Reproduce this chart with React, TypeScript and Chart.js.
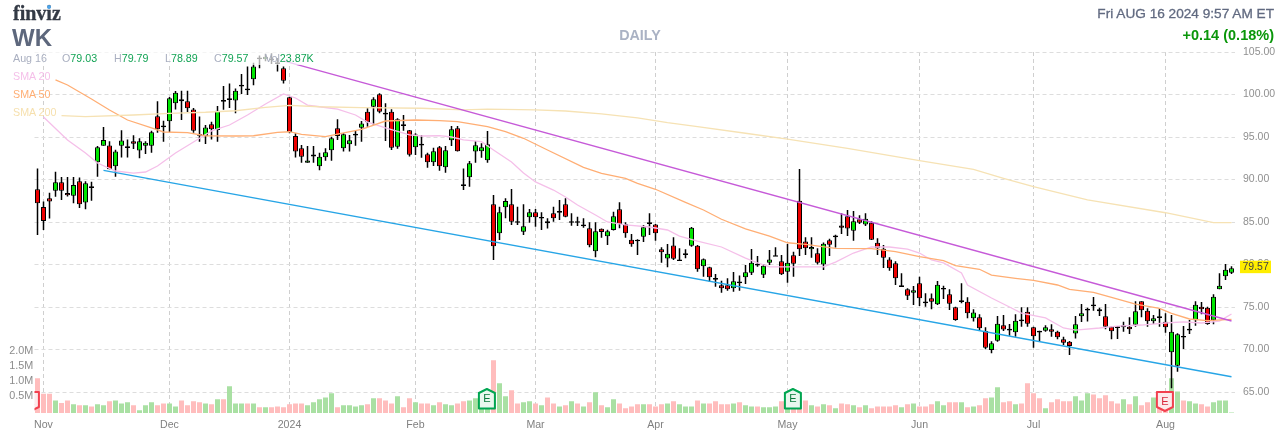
import React, { useEffect, useRef } from "react";
import { Chart, registerables } from "chart.js";

Chart.register(...registerables);

const opens = [88.84,86.77,87.78,88.69,89.67,88.4,88.1,89.78,87.3,89.2,92.02,93.98,94.0,91.55,93.98,93.7,94.5,93.4,93.98,93.98,97.43,96.35,96.85,98.96,99.43,99.2,98.25,95.35,95.08,96.5,95.82,99.35,99.35,99.3,100.95,100.7,101.8,104.35,104.14,104.25,103.8,103.08,99.67,95.12,93.67,91.98,92.7,91.55,92.61,93.43,96.02,93.67,94.14,95.18,96.1,97.98,98.57,100.02,97.85,97.98,93.86,96.5,95.79,93.79,94.2,92.96,92.02,93.79,91.43,94.61,96.02,89.45,90.26,93.28,93.31,92.26,87.08,83.67,86.73,87.08,85.1,83.86,85.55,86.14,85.4,85.08,86.02,86.1,87.08,84.9,85.1,84.5,84.26,81.55,84.2,83.31,84.06,86.49,84.73,82.92,82.92,83.27,84.97,84.72,81.78,80.72,82.25,80.4,81.13,82.21,82.21,79.78,79.67,78.4,77.55,77.55,77.2,78.0,78.49,79.04,80.08,78.8,80.2,80.9,80.37,79.16,81.08,87.51,82.72,81.78,81.31,80.0,82.84,83.2,84.6,85.67,83.98,85.31,84.72,84.92,82.57,81.86,80.6,80.14,77.35,77.08,76.69,77.78,75.65,76.02,75.31,77.05,76.49,74.96,75.6,75.63,73.67,73.79,72.18,69.94,71.04,72.84,72.44,72.02,73.53,74.45,72.61,72.2,72.22,72.37,72.1,71.2,70.92,71.87,73.9,74.58,75.28,74.73,73.9,72.69,72.73,72.61,72.69,72.92,75.67,74.57,73.31,73.9,73.27,69.67,68.1,71.6,72.24,73.43,75.04,74.92,73.43,77.08,78.61,79.03];
const highs = [91.3,87.4,88.45,90.92,90.3,90.3,90.3,90.25,89.8,89.75,93.94,96.18,94.5,93.5,95.8,94.7,95.2,94.85,94.5,95.75,99.2,96.9,99.7,100.4,100.45,100.45,98.4,97.4,96.4,96.8,98.65,101,101.3,100.7,102.4,103.3,103.75,104.6,104.8,104.85,104.3,103.3,99.75,95.45,94.05,93.94,93.94,93.15,93.67,95.04,97.08,95.43,95.23,95.75,96.88,98.37,99.67,100.14,98.96,98.26,97.2,97.6,95.82,95.43,95.23,93.16,93.75,93.94,93.94,96.3,96.3,91.3,92.18,94.53,94.26,95.71,88.18,86.8,87.78,88.88,86.8,87.08,86.53,86.53,86.14,85.43,86.8,87.59,87.78,86.02,85.63,85.43,84.96,84.96,84.25,84.1,86.2,87.31,84.96,83.59,82.96,84.65,86.02,84.76,82.02,82.41,83.2,81.9,81.8,84.41,82.3,80.72,79.75,78.88,78.1,78.37,79.12,78.72,79.94,81.82,81.0,80.06,81.7,82.02,81.12,82.41,81.5,91.24,83.2,83.2,81.9,82.6,83.04,83.5,86.02,86.41,86.29,85.8,86.02,85.08,83.08,82.3,80.84,80.37,78.96,77.2,77.47,78.57,76.61,76.6,78.06,77.51,77.08,75.04,77.8,76.14,74.73,74.14,72.61,70.96,73.94,74.06,73.0,74.14,74.96,74.96,72.69,72.22,72.84,72.96,72.22,71.51,71.0,73.94,75.35,74.92,76.18,74.92,75.35,72.76,72.76,73.27,73.79,75.67,75.67,74.84,74.06,74.84,74.26,74.06,71.9,72.77,73.47,75.67,75.59,75.04,76.49,78.96,80.06,79.79];
const lows = [83.47,84.06,85.4,87.98,87.6,88.0,87.2,86.65,86.5,87.5,90.33,93.98,91.2,90.33,92.6,92.6,93.6,92.5,93.0,93.15,95.5,94.45,95.6,98.25,97,97.95,95.5,94.45,94.18,94.7,94.45,98.2,98.4,97.8,100.05,99.95,101.1,103.1,103.9,103.6,102.7,101.3,95.45,92.6,91.98,91.98,91.98,91.1,92.2,92.2,94.65,93.28,93.28,93.98,94.45,96.2,96.41,97.78,94.53,93.47,93.63,95.75,92.7,92.88,92.57,91.39,91.59,91.04,90.8,93.94,93.28,88.77,89.16,91.98,92.57,91.98,80.53,82.88,85.43,84.65,84.65,83.47,84.92,84.45,84.06,84.25,85.04,85.24,85.55,84.57,84.53,84.33,82.02,80.84,83.16,82.3,84.0,84.26,83.16,82.1,81.12,82.65,83.47,82.8,80.2,79.67,80.53,80.45,80.73,82.1,79.16,78.57,77.98,77.39,76.69,76.92,76.8,76.92,77.7,78.76,79.74,78.41,79.94,81.0,78.76,77.86,78.57,81.0,81.12,80.8,80.0,79.35,81.0,82.0,83.59,83.35,82.8,84.76,84.53,82.88,81.12,79.59,79.27,77.59,77.39,75.82,75.23,75.12,75.04,74.73,75.23,75.94,74.65,73.39,75.43,73.67,73.28,72.3,70.02,69.55,70.92,72.18,71.63,71.51,72.69,72.69,70.22,71.0,72.1,71.51,71.2,70.53,69.35,71.28,73.24,73.28,74.57,73.94,72.37,71.2,71.24,72.1,71.82,72.69,73.79,72.69,73.0,72.69,71.98,65.43,67.39,70.06,71.82,72.8,74.14,72.92,72.96,77.08,78.18,78.89];
const closes = [87.2,85.12,87.4,89.67,88.69,88.15,89.35,87.08,89.55,89.0,93.78,94.65,91.2,93.3,94.6,93.9,94.2,94.5,94.33,95.55,95.9,96.15,99.55,100.2,99.2,98.37,95.75,95.15,96.13,95.9,98.1,99.15,99.55,100.45,101.15,100.5,103.3,104.15,104.45,104.05,103.6,101.63,95.6,93.28,92.68,92.25,92.95,92.68,93.2,94.84,95.12,95.31,94.61,95.38,96.6,96.73,99.43,97.98,97.65,93.75,97.08,96.3,92.92,95.28,94.0,92.02,93.31,91.55,93.43,95.9,93.31,89.25,91.9,94.02,93.78,94.14,82.14,86.14,87.47,85.04,84.9,84.49,86.14,85.55,85.6,84.84,85.43,86.3,85.63,85.1,84.9,84.7,82.26,83.9,83.82,83.9,85.67,84.73,83.67,82.37,82.73,84.37,84.77,83.67,81.43,81.27,80.69,80.6,81.33,84.33,79.43,80.61,78.49,78.2,77.2,77.08,78.02,77.8,79.08,80.2,79.88,79.86,80.6,81.1,78.84,80.2,80.1,81.78,81.9,82.06,80.2,82.45,82.33,83.4,84.33,84.25,85.08,84.92,85.39,82.92,81.9,80.8,79.55,78.37,77.55,76.33,76.96,76.02,75.45,75.63,77.63,77.25,75.39,73.47,75.8,74.26,74.34,72.49,70.22,70.73,73.04,72.34,72.24,73.39,73.33,73.04,71.55,72.0,72.61,72.1,71.43,70.8,70.41,72.96,74.26,74.78,75.08,74.5,72.69,72.14,72.53,72.84,72.37,74.49,74.61,73.31,73.67,73.7,72.61,72.1,71.78,71.4,72.44,75.27,74.73,73.0,76.22,77.51,79.39,79.57];
const volumesM = [1.16,.64,.64,.42,.33,.42,.29,.26,.26,.22,.29,.26,.39,.42,.32,.36,.26,.09,.26,.36,.26,.32,.32,.22,.42,.26,.39,.36,.32,.29,.46,.46,.89,.32,.32,.32,.32,.19,.19,.19,.22,.19,.29,.32,.32,.26,.36,.46,.52,.66,.19,.26,.26,.22,.26,.29,.49,.49,.42,.32,.56,.19,.49,.36,.32,.32,.26,.36,.29,.26,.32,.39,.42,.49,.3,.3,1.76,.99,.56,.76,.32,.36,.39,.32,.26,.52,.32,.22,.26,.39,.32,.22,.36,.69,.26,.19,.46,.32,.16,.22,.29,.29,.29,.22,.29,.32,.39,.29,.22,.22,.42,.32,.32,.39,.29,.29,.32,.36,.26,.22,.22,.19,.19,.22,.39,.3,.3,.55,.42,.26,.22,.29,.26,.16,.32,.29,.26,.19,.26,.16,.22,.22,.22,.26,.19,.29,.32,.22,.22,.29,.39,.26,.36,.36,.36,.19,.22,.26,.49,.52,.86,.36,.39,.29,.32,.99,.66,.49,.16,.36,.46,.39,.39,.56,.42,.66,.62,.49,.59,.39,.32,.46,.29,.56,.26,.36,.52,.59,.3,1.16,.72,.42,.39,.32,.29,.22,.36,.42,.42,.02];

const sma20Index = [1,5,8,10,13,16,18,20,23,26,29,32,35,38,41,43,45,47,50,53,55,58,62,64,67,69,71,74,76,79,81,83,86,88,90,93,95,98,102,105,107,110,114,118,120,122,126,131,133,136,139,142,145,147,149,151,154,155,159,162,164,168,171,173,177,180,184,188,191,194,197,199];
const sma20Values = [97.35,94.65,93.12,91.94,91.0,90.76,90.88,91.59,93.12,94.41,95.71,96.41,97.59,98.88,100.06,99.59,98.76,98.56,98.29,97.59,96.76,96.06,95.24,95.12,95.15,95,94.65,94.45,93.47,92.06,90.76,89.71,88.76,87.94,87,85.82,85,84.65,84.41,84.06,83.35,82.76,82.06,80.76,80.18,79.71,79.71,79.71,80.29,81.35,82.06,82.06,81.82,81.35,80.53,80.18,79,77.59,76.06,75,74.29,73.71,72.53,72.29,72.53,72.76,72.88,73.12,73.24,73.12,73.35,74.18];
const sma50Index = [3,5,9,12,15,19,21,25,28,33,36,40,42,44,48,50,54,58,63,67,70,75,78,81,85,91,94,98,100,103,108,111,114,118,122,125,128,133,139,143,147,151,153,157,159,163,166,170,172,176,179,183,187,189,192,195,199];
const sma50Values = [101.71,101.12,99.47,98.18,97,96.06,95.59,95.51,95.15,95.12,95.15,95.55,95.62,95.32,95.04,95.35,95.91,96.88,97,96.92,96.8,96.21,95.62,94.85,93.47,91.43,90.73,90.14,89.55,88.85,87.32,86.41,85.32,84.18,83.35,82.56,82.38,81.9,81.86,81.51,80.92,80.45,79.88,79.44,78.76,78.38,78.14,77.59,77.08,76.73,76.14,75.35,74.85,74.26,73.59,73.39,73.55];
const sma200Index = [4,8,16,22,28,33,38,42,47,54,64,71,75,83,88,94,100,105,110,118,125,135,147,156,161,166,175,188,196,199];
const sma200Values = [97.51,97.39,97.59,97.79,97.91,98.09,98.49,98.73,98.56,98.45,98.38,98.18,98.29,98.18,98.06,97.71,97.24,96.68,96.21,95.44,94.76,93.67,92.21,91.2,90.14,89.15,87.59,86.09,84.92,84.92];
const upperTrendIndex = [41,199];
const upperTrendValues = [103.96,73.35];
const lowerTrendIndex = [11,199];
const lowerTrendValues = [91.08,66.8];

const monthTickIndex = [1,22,42,63,83,103,125,147,166,188];
const monthTickLabels = ["Nov","Dec","2024","Feb","Mar","Apr","May","Jun","Jul","Aug"];
const priceTicks = [65,70,75,80,85,90,95,100,105];
const volumeTicks = [0.5,1,1.5,2];
const earningsIndex = [-1,75,126,188];
const earningsBeat = [false,true,true,false];

const FONT = '"Liberation Sans", Arial, sans-serif';
const sparse = (idx: number[], vals: number[]) => {
  const out: (number | null)[] = opens.map(() => null);
  idx.forEach((k, i) => { out[k] = vals[i]; });
  return out;
};

const overlayPlugin = {
  id: "overlay",
  afterDatasetsDraw(chart: any) {
    const { ctx, chartArea, scales } = chart;
    const bottom = chartArea.bottom;
    ctx.save();
    ctx.beginPath();
    ctx.rect(chartArea.left, chartArea.top, chartArea.right - chartArea.left, bottom - chartArea.top + 2);
    ctx.clip();
    earningsIndex.forEach((idx, k) => {
      const cx = scales.x.getPixelForValue(idx) - 0.6;
      const up = earningsBeat[k];
      const stroke = up ? "#00a651" : "#f2404f";
      const hw = 8;
      const top = up ? bottom - 24 : bottom - 21;
      const bot = up ? bottom - 4.5 : bottom - 2;
      ctx.beginPath();
      if (up) {
        ctx.moveTo(cx, top);
        ctx.lineTo(cx + hw, top + 4);
        ctx.lineTo(cx + hw, bot);
        ctx.lineTo(cx - hw, bot);
        ctx.lineTo(cx - hw, top + 4);
      } else {
        ctx.moveTo(cx - hw, top);
        ctx.lineTo(cx + hw, top);
        ctx.lineTo(cx + hw, bot - 4);
        ctx.lineTo(cx, bot);
        ctx.lineTo(cx - hw, bot - 4);
      }
      ctx.closePath();
      ctx.fillStyle = up ? "#e9f7ee" : "#fdeaec";
      ctx.fill();
      ctx.lineWidth = 2;
      ctx.lineJoin = "round";
      ctx.strokeStyle = stroke;
      ctx.stroke();
      ctx.fillStyle = up ? "#0a7a3b" : "#d9283c";
      ctx.font = `11px ${FONT}`;
      ctx.textAlign = "center";
      ctx.textBaseline = "middle";
      ctx.fillText("E", cx, (top + bot) / 2 + 0.5);
    });
    ctx.restore();

    const last = closes[closes.length - 1];
    const y = scales.y.getPixelForValue(last);
    ctx.save();
    ctx.fillStyle = "#ffee00";
    ctx.fillRect(1240, y - 7.5, 31, 12.5);
    ctx.fillStyle = "#444444";
    ctx.font = `10.5px ${FONT}`;
    ctx.textAlign = "left";
    ctx.textBaseline = "middle";
    ctx.fillText(last.toFixed(2), 1242.5, y - 1);
    ctx.restore();
  },
};

const abs = (s: React.CSSProperties): React.CSSProperties => ({
  position: "absolute", whiteSpace: "nowrap", fontFamily: FONT, lineHeight: 1, ...s,
});

const G = "#12a354";
const L = "#a9afc0";
const lg = { top: 53, fontSize: 10.7 };

export default function App() {
  const ref = useRef<HTMLCanvasElement | null>(null);
  useEffect(() => {
    const labels = opens.map((_, i) => String(i));
    const up = opens.map((o, i) => closes[i] >= o);
    const line = (data: (number | null)[], color: string, width: number, order: number) => ({
      type: "line" as const, data, borderColor: color, borderWidth: width, pointRadius: 0,
      spanGaps: true, tension: 0, order, yAxisID: "y", fill: false,
    });
    const chart = new Chart(ref.current as HTMLCanvasElement, {
      type: "bar",
      plugins: [overlayPlugin],
      data: {
        labels,
        datasets: [
          { data: volumesM, yAxisID: "yVol", grouped: false, barThickness: 5, inflateAmount: 0, order: 6,
            backgroundColor: up.map((u) => (u ? "#a9e0a3" : "#ffbdbd")) },
          { data: opens.map((_, i) => [lows[i], highs[i]]), yAxisID: "y", grouped: false, barThickness: 1.5,
            inflateAmount: 0, backgroundColor: "#000000", order: 5 },
          { data: opens.map((o, i) => [o, closes[i]]), yAxisID: "y", grouped: false, barThickness: 5,
            inflateAmount: 0, borderWidth: 1, borderColor: "#000000", borderSkipped: false, order: 4,
            backgroundColor: up.map((u) => (u ? "#00e600" : "#ee0000")) },
          line(sparse(sma200Index, sma200Values), "#f6e2b4", 1.3, 3),
          line(sparse(sma50Index, sma50Values), "#ffae74", 1.3, 3),
          line(sparse(sma20Index, sma20Values), "#f5bfe9", 1.3, 3),
          line(sparse(upperTrendIndex, upperTrendValues), "#c65ad8", 1.4, 1),
          line(sparse(lowerTrendIndex, lowerTrendValues), "#27a5e6", 1.4, 1),
        ] as any,
      },
      options: {
        animation: false,
        responsive: false,
        maintainAspectRatio: false,
        layout: { padding: { top: 52, left: 0, right: 0, bottom: 0 } },
        plugins: { legend: { display: false }, tooltip: { enabled: false } },
        scales: {
          x: {
            type: "category",
            offset: true,
            afterBuildTicks(scale: any) { scale.ticks = monthTickIndex.map((value) => ({ value })); },
            afterFit(scale: any) { scale.height = 29; },
            grid: { offset: false, color: "#cfcfcf", drawTicks: false },
            border: { display: false, dash: [4, 3] },
            ticks: {
              autoSkip: false, maxRotation: 0, padding: 6, color: "#808080",
              font: { family: FONT, size: 10.6 },
              callback: (value: any) => monthTickLabels[monthTickIndex.indexOf(Number(value))],
            },
          },
          y: {
            position: "right",
            min: 62.53,
            max: 105,
            afterBuildTicks(scale: any) { scale.ticks = priceTicks.map((value) => ({ value })); },
            afterFit(scale: any) { scale.width = 52.5; },
            grid: { color: "#dddddd", drawTicks: false },
            border: { display: false, dash: [4, 3] },
            ticks: {
              padding: 8.5, color: "#909090", font: { family: FONT, size: 10.5 },
              callback: (v: any) => Number(v).toFixed(2),
            },
          },
          yVol: {
            position: "left",
            min: 0,
            max: 12.03,
            afterBuildTicks(scale: any) { scale.ticks = volumeTicks.map((value) => ({ value })); },
            afterFit(scale: any) { scale.width = 34.5; },
            grid: { display: false, drawTicks: false },
            border: { display: false },
            ticks: {
              padding: 1.2, labelOffset: -2, color: "#8c8c8c", font: { family: FONT, size: 10.8 },
              callback: (v: any) => Number(v).toFixed(1) + "M",
            },
          },
        },
      } as any,
    });
    return () => chart.destroy();
  }, []);

  return (
    <div style={{ position: "absolute", left: 0, top: 0, width: 1287, height: 442, background: "#fff", overflow: "hidden" }}>
      <canvas ref={ref} width={1287} height={442} style={{ display: "block", width: 1287, height: 442 }} />
      <div style={abs({ left: 13, top: 3, fontFamily: '"Liberation Serif", serif', fontWeight: 700, fontSize: 20, color: "#333a45", WebkitTextStroke: "0.3px #333a45" })}>finviz</div>
      <div style={{ position: "absolute", left: 47, top: 5, width: 4, height: 4, borderRadius: 2, background: "#4da3e8" }} />
      <div style={abs({ left: 12, top: 26, fontWeight: 700, fontSize: 24, color: "#5d677c" })}>WK</div>
      <div style={abs({ left: 540, width: 200, textAlign: "center", top: 28, fontWeight: 700, fontSize: 14.3, color: "#aab2c4" })}>DAILY</div>
      <div style={abs({ right: 13, top: 7, fontSize: 13.65, color: "#616a80", WebkitTextStroke: "0.3px #616a80" })}>Fri AUG 16 2024 9:57 AM ET</div>
      <div style={abs({ right: 13, top: 28, fontSize: 14.5, fontWeight: 700, color: "#0a960a" })}>+0.14 (0.18%)</div>
      <div style={{ position: "absolute", left: 12, top: 52, width: 305, height: 13, background: "rgba(255,255,255,0.68)" }} />
      <div style={abs({ ...lg, left: 13, color: L })}>Aug 16</div>
      <div style={abs({ ...lg, left: 62, color: L })}>O<span style={{ color: G }}>79.03</span></div>
      <div style={abs({ ...lg, left: 114, color: L })}>H<span style={{ color: G }}>79.79</span></div>
      <div style={abs({ ...lg, left: 165, color: L })}>L<span style={{ color: G }}>78.89</span></div>
      <div style={abs({ ...lg, left: 214, color: L })}>C<span style={{ color: G }}>79.57</span></div>
      <div style={abs({ ...lg, left: 265, color: L })}>Vol<span style={{ color: G }}>23.87K</span></div>
      <div style={abs({ left: 13, top: 71, fontSize: 10.7, color: "#f5bfe9" })}>SMA 20</div>
      <div style={abs({ left: 13, top: 89, fontSize: 10.7, color: "#ffae74" })}>SMA 50</div>
      <div style={abs({ left: 13, top: 107, fontSize: 10.7, color: "#f6e0ae" })}>SMA 200</div>
    </div>
  );
}
